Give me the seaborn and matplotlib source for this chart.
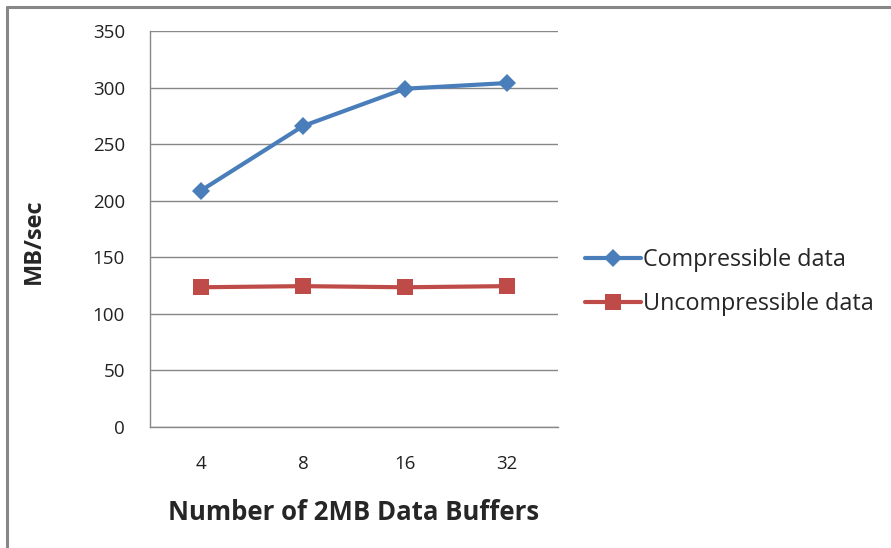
import pandas as pd
import matplotlib
matplotlib.use('Agg')
import matplotlib.pyplot as plt
from matplotlib.lines import Line2D
import seaborn as sns

# data
buffers = ['4', '8', '16', '32']
compressible = [209, 266, 299, 304]
uncompressible = [123.5, 124.5, 123.5, 124.5]

data = pd.DataFrame({
    'Buffers': buffers * 2,
    'MBps': compressible + uncompressible,
    'Series': ['Compressible data'] * 4 + ['Uncompressible data'] * 4,
})

sns.set_style('white')
plt.rcParams['font.family'] = ['Open Sans', 'DejaVu Sans']

fig = plt.figure(figsize=(8.91, 5.48), dpi=100)
ax = fig.add_axes([150 / 891, 1 - 427 / 548, 408 / 891, 396 / 548])

colors = {'Compressible data': '#4a7ebb', 'Uncompressible data': '#be4b48'}
markers = {'Compressible data': 'D', 'Uncompressible data': 's'}
sizes = {'Compressible data': 9, 'Uncompressible data': 11}

for name, grp in data.groupby('Series', sort=False):
    sns.lineplot(data=grp, x='Buffers', y='MBps', ax=ax, color=colors[name],
                 marker=markers[name], markersize=sizes[name], markeredgewidth=0,
                 linewidth=3, label=name, sort=False)

ax.set_ylim(0, 350)
ax.set_yticks(range(0, 351, 50))
ax.set_xlim(-0.5, 3.5)
ax.set_xticks([-0.5, 0.5, 1.5, 2.5, 3.5])
ax.set_xticklabels([])
ax.set_xticks(range(4), minor=True)
ax.set_xticklabels(buffers, minor=True)
ax.tick_params(axis='x', which='minor', length=0, pad=20, labelsize=13.5, colors='#222222')
ax.tick_params(axis='x', which='major', length=6, width=1, color='#878787', direction='out')
ax.tick_params(axis='y', length=6, width=1, color='#878787', direction='out', pad=12,
               labelsize=13.5, labelcolor='#222222')
ax.grid(axis='y', color='#878787', linewidth=1)
ax.set_axisbelow(True)

for s in ['top', 'right']:
    ax.spines[s].set_visible(False)
for s in ['left', 'bottom']:
    ax.spines[s].set_color('#878787')
    ax.spines[s].set_linewidth(1)

ax.set_xlabel('Number of 2MB Data Buffers', fontsize=18.5, fontweight='bold', labelpad=19)
ax.set_ylabel('MB/sec', fontsize=17, fontweight='bold')
ax.yaxis.set_label_coords(-0.255, 1 - (241.5 - 31) / 396)

handles = [Line2D([], [], color=colors[n], marker=markers[n], markersize=sizes[n],
                  markeredgewidth=0, linewidth=3) for n in colors]
ax.legend(handles, list(colors), loc='center left', bbox_to_anchor=(564 / 891, 1 - 282 / 548),
          bbox_transform=fig.transFigure, frameon=False, fontsize=16.8,
          handlelength=2.4, handletextpad=0.1, labelspacing=0.86)

# outer chart border (top and left only visible)
fig.add_artist(Line2D([7 / 891, 7 / 891], [0, 1 - 6.5 / 548], color='#878787', linewidth=2.2,
                      transform=fig.transFigure))
fig.add_artist(Line2D([7 / 891, 1], [1 - 6.5 / 548, 1 - 6.5 / 548], color='#878787', linewidth=2.2,
                      transform=fig.transFigure))

fig.savefig('out.png', dpi=100)
